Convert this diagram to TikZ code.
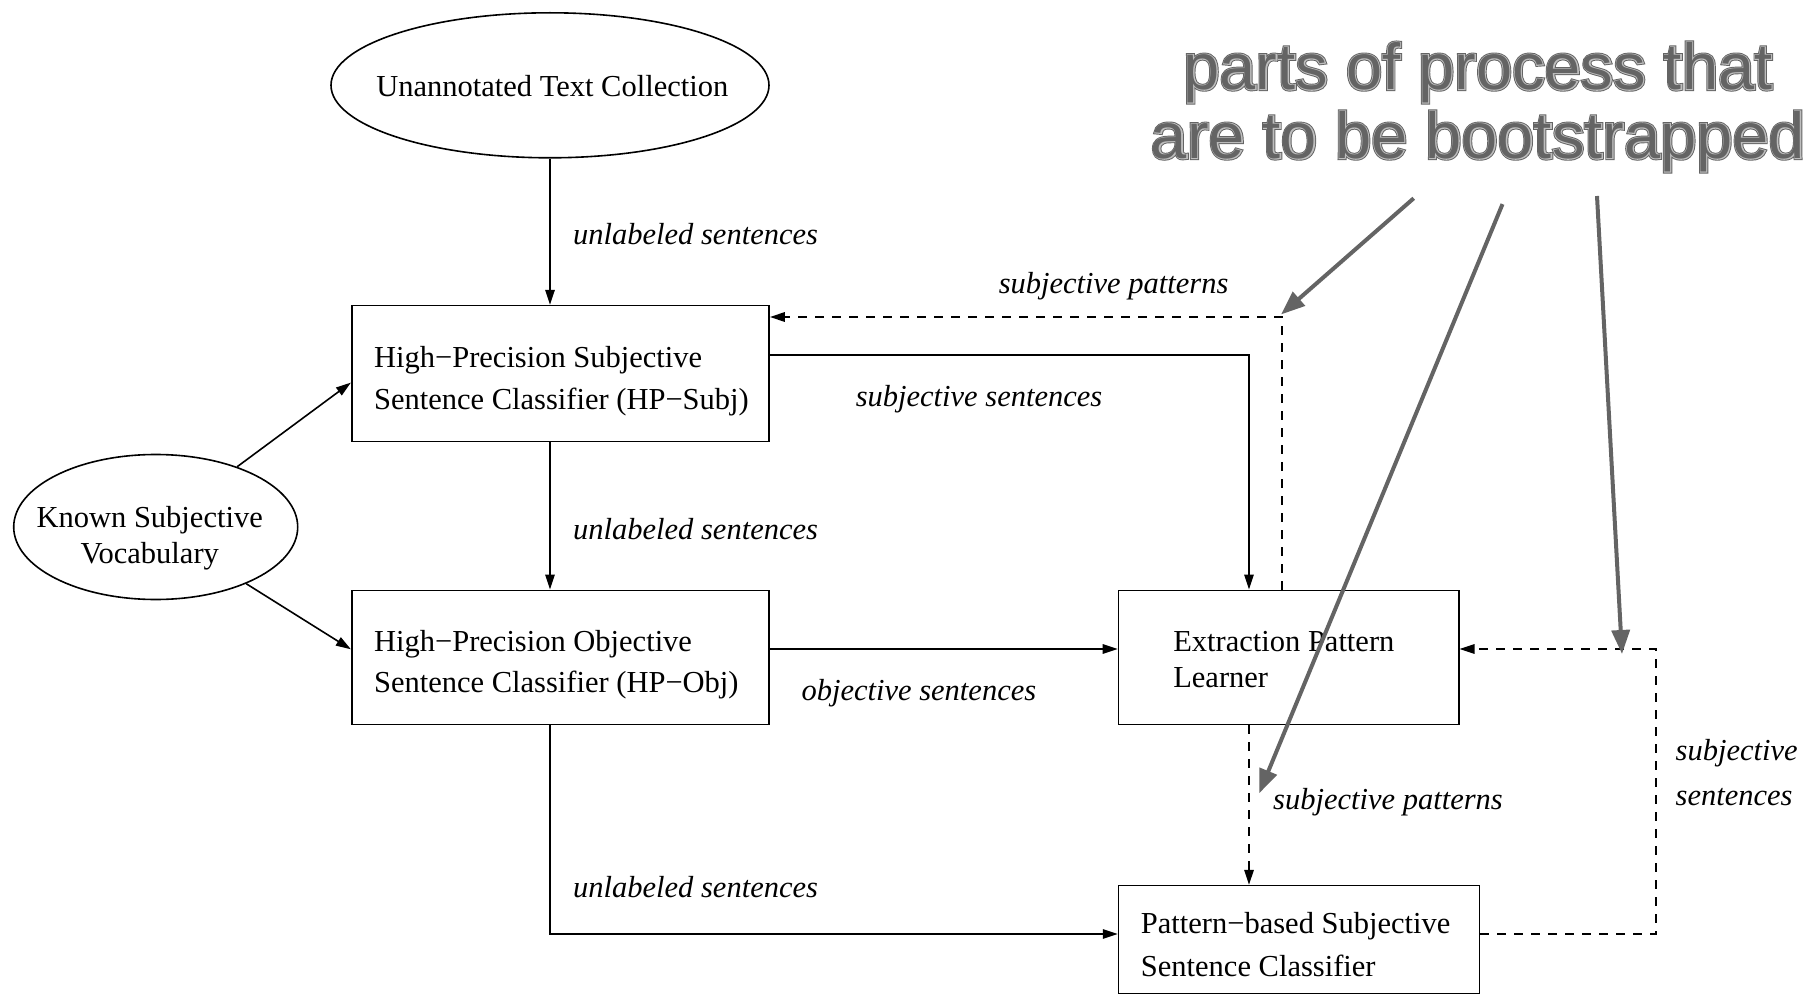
\documentclass[tikz,border=0pt]{standalone}
\usepackage{fontspec}
\setmainfont{Liberation Serif}
\newfontfamily\annA[FakeBold=5.5]{Liberation Sans}
\newfontfamily\annB[FakeBold=2.6]{Liberation Sans}
\newfontfamily\annC{Liberation Sans}
\usetikzlibrary{arrows.meta,shapes.geometric,calc}
\definecolor{annodark}{HTML}{646464}
\definecolor{annolight}{HTML}{BEBEBE}
\tikzset{
  box/.style={draw, line width=1.6pt, inner sep=0pt},
  boxtext/.style={align=left, inner sep=0pt, anchor=west, font=\fontsize{30.5}{41.5}\selectfont},
  oval/.style={draw, ellipse, line width=1.6pt, inner sep=0pt},
  ovaltext/.style={align=center, inner sep=0pt, font=\fontsize{30.5}{36}\selectfont},
  arr/.style={line width=1.6pt, -{Triangle[length=15pt,width=9.5pt]}},
  darr/.style={arr, dash pattern=on 9pt off 8pt},
  lbl/.style={font=\fontsize{30.5}{36}\selectfont\itshape, anchor=west, inner sep=0pt},
  anno/.style={line width=4pt, draw=annodark, -{Triangle[length=24pt,width=18pt]}},
  annotext/.style={align=center, inner sep=0pt}
}
\begin{document}
\begin{tikzpicture}[x=1pt,y=-1pt]
\useasboundingbox (0,0) rectangle (1808,995);
% ellipses
\node[oval, minimum width=438pt, minimum height=145pt] (top) at (550,85.3) {};
\node[ovaltext] (topt) at (552.3,86.5) {Unannotated Text Collection};
\node[oval, minimum width=284pt, minimum height=145pt] (kv) at (155.7,527) {};
\node[ovaltext] (kvt) at (149.7,538.3) {Known Subjective\\Vocabulary};
% boxes
\node[box, minimum width=417.4pt, minimum height=136pt] (hps) at (560.4,373.6) {};
\node[boxtext] (hpst) at ($(hps.west)+(23,7.5)$)
  {High\textminus Precision Subjective\\Sentence Classifier (HP\textminus Subj)};
\node[box, minimum width=417.4pt, minimum height=134pt] (hpo) at (560.4,657.3) {};
\node[boxtext] (hpot) at ($(hpo.west)+(23,7.5)$)
  {High\textminus Precision Objective\\Sentence Classifier (HP\textminus Obj)};
\node[box, minimum width=340.2pt, minimum height=134pt] (extr) at (1288.6,657.3) {};
\node[boxtext, font=\fontsize{30.5}{36}\selectfont] (extrt) at ($(extr.west)+(55.4,2.3)$)
  {Extraction Pattern\\Learner};
\node[box, minimum width=360.9pt, minimum height=108pt] (pat) at (1299,939.6) {};
\node[boxtext, font=\fontsize{30.5}{43}\selectfont] (patt) at ($(pat.west)+(23,4.6)$)
  {Pattern\textminus based Subjective\\Sentence Classifier};
% helper coordinates
\coordinate (c1) at (1249,355);
\coordinate (c2) at (1282,317);
\coordinate (c3) at (700,649);
\coordinate (c4) at (1656,649);
\coordinate (c5) at (1656,934);
\path (hps.west) ++(0,9) coordinate (k1);
\path (hpo.west) ++(0,-8) coordinate (k2);
% connectors
\draw[arr] (top.south) -- (top.south |- hps.north);
\draw[arr] (hps.south -| top.south) -- (hpo.north -| top.south);
\draw[arr] (kv) -- (k1);
\draw[arr] (kv) -- (k2);
\draw[arr] (hps.east |- c1) -- (c1) -- (c1 |- extr.north);
\draw[darr] (c2 |- extr.north) -- (c2) -- (c2 -| hps.east);
\draw[arr] (hpo.east |- c3) -- (extr.west |- c3);
\draw[darr] (extr.south -| c1) -- (pat.north -| c1);
\draw[arr] (hpo.south -| top.south) -- (top.south |- c5) -- (pat.west |- c5);
\draw[darr] (pat.east |- c5) -- (c5) -- (c4) -- (extr.east |- c4);
% labels
\node[lbl] (l1) at (573,234) {unlabeled sentences};
\node[lbl] (l2) at (998.6,286) {subjective patterns};
\node[lbl] (l3) at (855.6,399) {subjective sentences};
\node[lbl] (l4) at (573,529.3) {unlabeled sentences};
\node[lbl] (l5) at (801.4,693) {objective sentences};
\node[lbl] (l6) at (1273,802.3) {subjective patterns};
\node[lbl, align=left, font=\fontsize{30.5}{45}\selectfont\itshape] (l7) at (1675.5,773) {subjective\\sentences};
\node[lbl] (l8) at (573,886.7) {unlabeled sentences};
% annotation
\node[annotext, text=annodark, font=\fontsize{65}{69}\annA] (an) at (1478,107) {parts of process that\\are to be bootstrapped};
\node[annotext, text=annolight, font=\fontsize{65}{69}\annB] (anb) at (1478,107) {parts of process that\\are to be bootstrapped};
\node[annotext, text=annodark, font=\fontsize{65}{69}\annC] (anc) at (1478,107) {parts of process that\\are to be bootstrapped};
\coordinate (a1s) at (1413.7,198.3);
\coordinate (a1e) at (1281,314.5);
\coordinate (a2s) at (1502.5,204.1);
\coordinate (a2e) at (1259.2,793.3);
\coordinate (a3s) at (1597,196);
\coordinate (a3e) at (1622,654);
\draw[anno] (a1s) -- (a1e);
\draw[anno] (a2s) -- (a2e);
\draw[anno] (a3s) -- (a3e);
\end{tikzpicture}
\end{document}
